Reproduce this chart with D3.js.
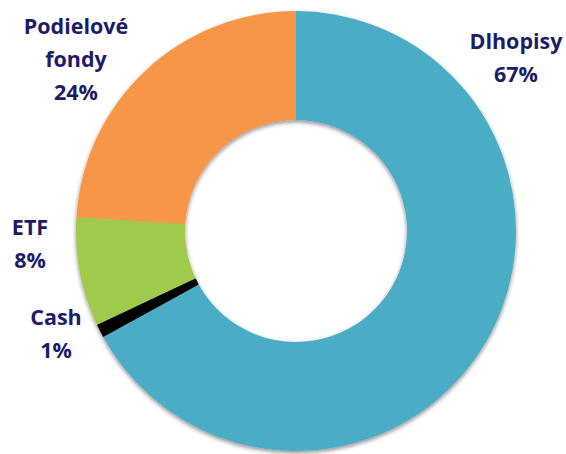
<!DOCTYPE html>
<html>
<head>
<meta charset="utf-8">
<script src="https://cdn.jsdelivr.net/npm/d3@7"></script>
<style>
    body { margin: 0; background: #fff; }
    svg { display: block; }
</style>
</head>
<body>
<svg></svg>
<script>
// dáta z grafu
let categories = ["Dlhopisy", "Cash", "ETF", "Podielové fondy"];
let values = [67, 1, 8, 24];
let labelLines = [["Dlhopisy", "67%"], ["Cash", "1%"], ["ETF", "8%"], ["Podielové", "fondy", "24%"]];

function drawDonut() {
    let width = 566;
    let height = 454;
    let cx = 296, cy = 231;
    let outerR = 220, innerR = 111;

    let svg = d3.select("svg")
        .attr("width", width)
        .attr("height", height);

    svg.selectAll("*").remove();

    let defs = svg.append("defs");

    // gradient pre ETF
    let grad = defs.append("linearGradient")
        .attr("id", "etfGrad")
        .attr("gradientUnits", "userSpaceOnUse")
        .attr("x1", 0).attr("y1", cy - 10)
        .attr("x2", 0).attr("y2", cy + 100);
    grad.append("stop").attr("offset", "0%").attr("stop-color", "#9fca4b");
    grad.append("stop").attr("offset", "100%").attr("stop-color", "#6f8c36");

    // tieň
    let shadow = defs.append("filter")
        .attr("id", "shadow")
        .attr("x", "-10%").attr("y", "-10%")
        .attr("width", "120%").attr("height", "120%");
    shadow.append("feDropShadow")
        .attr("dx", 0).attr("dy", 2)
        .attr("stdDeviation", 2)
        .attr("flood-color", "#000")
        .attr("flood-opacity", 0.45);

    let colors = d3.scaleOrdinal()
        .domain(categories)
        .range(["#4bacc6", "#000000", "url(#etfGrad)", "#f79646"]);

    let pie = d3.pie()
        .sort(null)
        .value(d => d.value);

    let arc = d3.arc()
        .innerRadius(innerR)
        .outerRadius(outerR);

    let data = categories.map((c, i) => ({ name: c, value: values[i] }));

    let g = svg.append("g")
        .attr("transform", `translate(${cx}, ${cy})`)
        .attr("filter", "url(#shadow)");

    g.selectAll("path")
        .data(pie(data))
        .enter()
        .append("path")
        .attr("d", arc)
        .attr("fill", d => colors(d.data.name));

    // popisky mimo grafu
    let labelPos = {
        "Dlhopisy": [516, 49],
        "Cash": [56, 325],
        "ETF": [30, 235],
        "Podielové fondy": [76, 34]
    };
    let lineStep = 33;

    categories.forEach((c, i) => {
        let pos = labelPos[c];
        let t = svg.append("text")
            .attr("x", pos[0])
            .attr("y", pos[1])
            .attr("text-anchor", "middle")
            .attr("fill", "#1c1c6b")
            .style("font", "bold 21.5px 'Open Sans'");
        labelLines[i].forEach((line, j) => {
            t.append("tspan")
                .attr("x", pos[0])
                .attr("y", pos[1] + j * lineStep)
                .text(line);
        });
    });
}

drawDonut();
</script>
</body>
</html>
